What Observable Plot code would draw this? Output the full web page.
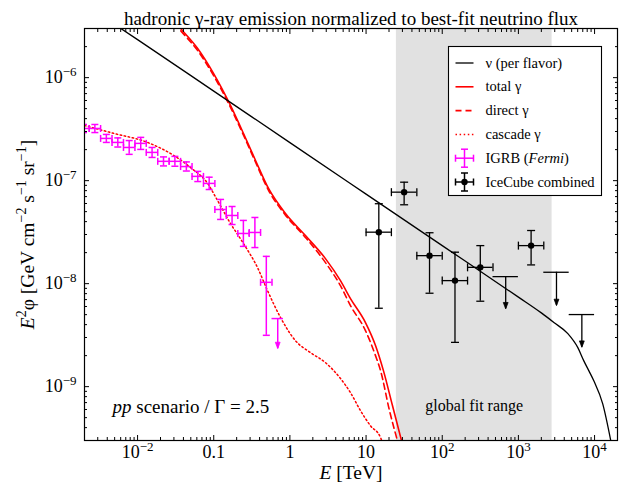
<!DOCTYPE html>
<html><head><meta charset="utf-8">
<script src="https://cdn.jsdelivr.net/npm/d3@7"></script>
<script src="https://cdn.jsdelivr.net/npm/@observablehq/plot@0.6"></script>
<style>
body{margin:0;background:#fff;}
#chart{width:622px;height:487px;}
</style></head><body><div id="chart"></div>
<script>
// ---------------- data ----------------
// neutrino flux per flavor, E [TeV], E^2 phi [GeV cm^-2 s^-1 sr^-1]
const nuE    = [5.0e-3, 1e-2, 0.1, 1, 10, 100, 1000, 2000, 2920, 4460, 6030, 7200, 8400, 9770, 12800, 16300];
const nuFlux = [3.29e-6, 2.34e-6, 7.4e-7, 2.34e-7, 7.4e-8, 2.34e-8, 7.4e-9, 5.2e-9, 4.2e-9, 3.27e-9, 2.39e-9, 1.79e-9, 1.43e-9, 1.14e-9, 6.8e-10, 3.0e-10];
// total gamma
const totE    = [0.025, 0.0366, 0.0612, 0.0993, 0.161, 0.246, 0.354, 0.524, 0.875, 1.60, 2.93, 4.61, 6.24, 9.82, 13.3, 16.9, 22.2, 29.2];
const totFlux = [4.2e-6, 3.01e-6, 1.93e-6, 1.10e-6, 5.62e-7, 2.87e-7, 1.57e-7, 8.39e-8, 4.80e-8, 2.93e-8, 1.75e-8, 1.07e-8, 7.16e-9, 4.19e-9, 2.51e-9, 1.43e-9, 6.55e-10, 2.99e-10];
// direct gamma
const dirE    = [0.025, 0.0366, 0.0612, 0.0993, 0.161, 0.246, 0.354, 0.524, 0.875, 1.60, 2.93, 4.61, 6.24, 9.82, 13.3, 15.5, 20.3, 25.8];
const dirFlux = [4.0e-6, 2.87e-6, 1.84e-6, 1.05e-6, 5.38e-7, 2.76e-7, 1.51e-7, 8.05e-8, 4.62e-8, 2.81e-8, 1.60e-8, 9.57e-9, 6.12e-9, 3.50e-9, 2.00e-9, 1.43e-9, 5.85e-10, 2.99e-10];
// cascade gamma
const casE    = [2.01e-3, 4.84e-3, 0.0135, 0.0297, 0.0496, 0.083, 0.112, 0.166, 0.246, 0.376, 0.508, 0.753, 1.18, 1.86, 2.93, 4.61, 6.24, 8.45, 11.4, 15.5, 16.6];
const casFlux = [3.43e-7, 2.88e-7, 2.35e-7, 1.76e-7, 1.34e-7, 9.4e-8, 6.43e-8, 3.84e-8, 2.45e-8, 1.43e-8, 8.57e-9, 4.69e-9, 2.80e-9, 2.14e-9, 1.71e-9, 1.20e-9, 8.75e-10, 5.85e-10, 4.18e-10, 3.2e-10, 2.8e-10];
// IGRB (Fermi) measured points
const igrbE     = [1.95e-3, 2.75e-3, 3.89e-3, 5.50e-3, 7.76e-3, 1.10e-2, 1.55e-2, 2.19e-2, 3.09e-2, 4.37e-2, 6.17e-2, 8.71e-2, 0.123, 0.174, 0.245, 0.347, 0.490];
const igrbEdges = [1.64e-3, 2.32e-3, 3.27e-3, 4.62e-3, 6.53e-3, 9.23e-3, 1.30e-2, 1.84e-2, 2.60e-2, 3.67e-2, 5.19e-2, 7.33e-2, 0.1035, 0.146, 0.207, 0.292, 0.412, 0.582, 0.822];
const igrbFlux  = [3.21e-7, 3.21e-7, 2.57e-7, 2.35e-7, 2.10e-7, 2.30e-7, 1.88e-7, 1.54e-7, 1.54e-7, 1.37e-7, 1.10e-7, 9.4e-8, 5.25e-8, 4.59e-8, 3.07e-8, 3.14e-8, 1.03e-8];
const igrbLo    = [2.93e-7, 2.93e-7, 2.35e-7, 2.12e-7, 1.80e-7, 2.01e-7, 1.68e-7, 1.39e-7, 1.38e-7, 1.24e-7, 9.8e-8, 8.2e-8, 4.20e-8, 3.75e-8, 2.30e-8, 2.24e-8, 3.15e-9];
const igrbHi    = [3.51e-7, 3.51e-7, 2.81e-7, 2.60e-7, 2.45e-7, 2.63e-7, 2.10e-7, 1.70e-7, 1.72e-7, 1.52e-7, 1.23e-7, 1.08e-7, 6.57e-8, 5.61e-8, 4.11e-8, 4.39e-8, 1.84e-8];
// IGRB upper limit
const igrbUlE = [0.692], igrbUlLo = [0.582], igrbUlHi = [0.822], igrbUl = [4.58e-9], igrbUlTip = [2.34e-9];
// IceCube combined points
const icE    = [14.7, 31.6, 68.1, 147, 316, 1468];
const icBinLo = [10, 21.5, 46.4, 100, 215, 1000];
const icBinHi = [21.5, 46.4, 100, 215, 464, 2154];
const icFlux = [3.16e-8, 7.73e-8, 1.87e-8, 1.07e-8, 1.44e-8, 2.34e-8];
const icLo   = [5.77e-9, 5.83e-8, 8.07e-9, 2.69e-9, 6.75e-9, 1.52e-8];
const icHi   = [5.97e-8, 9.66e-8, 3.12e-8, 2.02e-8, 2.34e-8, 3.28e-8];
// IceCube upper limits
const icUlE = [681, 3162, 6808], icUlLo = [464, 2154, 4642], icUlHi = [1000, 4642, 10000];
const icUl = [1.17e-8, 1.29e-8, 5.01e-9], icUlTip = [5.69e-9, 6.12e-9, 2.41e-9];
// global fit range [TeV]
const fitRange = [25, 2770];
// axes
const xDomain = [2.01e-3, 2.0e4], yDomain = [3.0e-10, 3.0e-6];
const xMajor = [1e-2, 1e-1, 1, 10, 100, 1e3, 1e4];
const xTickLabels = ["10^\u22122^", "0.1", "1", "10", "10^2^", "10^3^", "10^4^"];
const yMajor = [1e-9, 1e-8, 1e-7, 1e-6];
const yTickLabels = ["10^\u22129^", "10^\u22128^", "10^\u22127^", "10^\u22126^"];
const titleText = "hadronic \u03b3-ray emission normalized to best-fit neutrino flux";
const xLabel = "*E* [TeV]";
const yLabel = "*E*^2^\u03c6 [GeV cm^\u22122^ s^\u22121^ sr^\u22121^]";
const scenarioText = "*pp* scenario / \u0393 = 2.5";
const fitText = "global fit range";
const legendLabels = ["\u03bd (per flavor)", "total \u03b3", "direct \u03b3", "cascade \u03b3", "IGRB (*Fermi*)", "IceCube combined"];

// ---------------- tables ----------------
const tab = (E, F) => E.map((e, i) => ({E: e, F: F[i]}));
const nu = tab(nuE, nuFlux), tot = tab(totE, totFlux), dir = tab(dirE, dirFlux), cas = tab(casE, casFlux);
const igrb = igrbE.map((e, i) => ({E: e, e1: igrbEdges[i], e2: igrbEdges[i + 1], F: igrbFlux[i], lo: igrbLo[i], hi: igrbHi[i]}));
const igrbUL = igrbUlE.map((e, i) => ({E: e, e1: igrbUlLo[i], e2: igrbUlHi[i], F: igrbUl[i], tip: igrbUlTip[i]}));
const ic = icE.map((e, i) => ({E: e, e1: icBinLo[i], e2: icBinHi[i], F: icFlux[i], lo: icLo[i], hi: icHi[i]}));
const icUL = icUlE.map((e, i) => ({E: e, e1: icUlLo[i], e2: icUlHi[i], F: icUl[i], tip: icUlTip[i]}));

const minors = (dom) => { const out = []; for (let k = -12; k <= 6; k++) for (let m = 2; m <= 9; m++) { const v = m * Math.pow(10, k); if (v >= dom[0] && v <= dom[1]) out.push(v); } return out; };
const xMinor = minors(xDomain), yMinor = minors(yDomain);
const xLab = new Map(xMajor.map((v, i) => [v, xTickLabels[i]]));
const yLab = new Map(yMajor.map((v, i) => [v, yTickLabels[i]]));

// custom symbols
const rad = (size) => Math.sqrt(size / Math.PI);
const hCap = {draw(ctx, size) { const w = rad(size); ctx.moveTo(-w, 0); ctx.lineTo(w, 0); }};
const vCap = {draw(ctx, size) { const w = rad(size); ctx.moveTo(0, -w); ctx.lineTo(0, w); }};
const downTri = {draw(ctx, size) { const w = rad(size); ctx.moveTo(0, 0); ctx.lineTo(-w * 0.75, -w * 2); ctx.lineTo(w * 0.75, -w * 2); ctx.closePath(); }};

const serif = "'Liberation Serif','Times New Roman','DejaVu Serif',serif";
const MAG = "#ff00ff", RED = "#ff0000";

function errorMarks(data, color, capR, lw) {
  return [
    Plot.ruleX(data, {x: "E", y1: "lo", y2: "hi", stroke: color, strokeWidth: lw, clip: true}),
    Plot.ruleY(data, {y: "F", x1: "e1", x2: "e2", stroke: color, strokeWidth: lw, clip: true}),
    Plot.dot(data, {x: "E", y: "lo", symbol: hCap, r: capR, stroke: color, fill: "none", strokeWidth: lw, clip: true}),
    Plot.dot(data, {x: "E", y: "hi", symbol: hCap, r: capR, stroke: color, fill: "none", strokeWidth: lw, clip: true}),
    Plot.dot(data, {x: "e1", y: "F", symbol: vCap, r: capR, stroke: color, fill: "none", strokeWidth: lw, clip: true}),
    Plot.dot(data, {x: "e2", y: "F", symbol: vCap, r: capR, stroke: color, fill: "none", strokeWidth: lw, clip: true})
  ];
}
function ulMarks(data, color, lw, triR) {
  return [
    Plot.ruleY(data, {y: "F", x1: "e1", x2: "e2", stroke: color, strokeWidth: lw}),
    Plot.ruleX(data, {x: "E", y1: "F", y2: "tip", stroke: color, strokeWidth: lw}),
    Plot.dot(data, {x: "E", y: "tip", symbol: downTri, r: triR, fill: color, stroke: color, strokeWidth: 0.8})
  ];
}

const plot = Plot.plot({
  width: 622, height: 487,
  marginLeft: 84, marginRight: 5, marginTop: 28, marginBottom: 47,
  style: {fontFamily: serif, fontSize: "18px", background: "white", color: "black", overflow: "visible"},
  x: {type: "log", domain: xDomain},
  y: {type: "log", domain: yDomain},
  marks: [
    Plot.rect([fitRange], {x1: d => d[0], x2: d => d[1], fill: "#e1e1e1"}),
    Plot.line(cas, {x: "E", y: "F", stroke: RED, strokeWidth: 1.5, strokeDasharray: "1.5,2.6", curve: "monotone-x", clip: true}),
    Plot.line(tot, {x: "E", y: "F", stroke: RED, strokeWidth: 1.6, curve: "monotone-x", clip: true}),
    Plot.line(dir, {x: "E", y: "F", stroke: RED, strokeWidth: 1.6, strokeDasharray: "6,4", curve: "monotone-x", clip: true}),
    Plot.line(nu, {x: "E", y: "F", stroke: "black", strokeWidth: 1.3, curve: "monotone-x", clip: true}),
    ...errorMarks(igrb, MAG, 3.5, 1.5),
    ...ulMarks(igrbUL, MAG, 1.5, 3.2),
    ...errorMarks(ic, "black", 4, 1.3),
    Plot.dot(ic, {x: "E", y: "F", r: 3.2, fill: "black", stroke: "none"}),
    ...ulMarks(icUL, "black", 1.3, 3.2),
    // ticks (inward)
    Plot.axisX(xMajor, {anchor: "bottom", tickSize: 5, dy: -5, fill: "none", label: null}),
    Plot.axisX(xMinor, {anchor: "bottom", tickSize: 3, dy: -3, fill: "none", label: null}),
    Plot.axisX(xMajor, {anchor: "top", tickSize: 5, dy: 5, fill: "none", label: null}),
    Plot.axisX(xMinor, {anchor: "top", tickSize: 3, dy: 3, fill: "none", label: null}),
    Plot.axisY(yMajor, {anchor: "left", tickSize: 5, dx: 5, fill: "none", label: null}),
    Plot.axisY(yMinor, {anchor: "left", tickSize: 3, dx: 3, fill: "none", label: null}),
    Plot.axisY(yMajor, {anchor: "right", tickSize: 5, dx: -5, fill: "none", label: null}),
    Plot.axisY(yMinor, {anchor: "right", tickSize: 3, dx: -3, fill: "none", label: null}),
    // tick labels
    Plot.axisX(xMajor, {anchor: "bottom", tickSize: 0, tickPadding: 5, tickFormat: d => xLab.get(d), fontSize: 18, label: null}),
    Plot.axisY(yMajor, {anchor: "left", tickSize: 0, tickPadding: 8, tickFormat: d => yLab.get(d), fontSize: 18, label: null}),
    Plot.frame({stroke: "black", strokeWidth: 1.2}),
    // texts
    Plot.text([titleText], {text: d => d, frameAnchor: "top", dy: -17, fontSize: 19}),
    Plot.text([xLabel], {text: d => d, frameAnchor: "bottom", textAnchor: "middle", dy: 38, fontSize: 19.5}),
    Plot.text([yLabel], {text: d => d, frameAnchor: "left", textAnchor: "middle", rotate: -90, dx: -57, fontSize: 19.5}),
    Plot.text([scenarioText], {text: d => d, frameAnchor: "bottom-left", textAnchor: "start", dx: 28, dy: -28, fontSize: 19}),
    Plot.text([fitText], {text: d => d, x: () => Math.sqrt(fitRange[0] * fitRange[1]), frameAnchor: "bottom", dy: -30, fontSize: 16})
  ]
});
document.getElementById("chart").appendChild(plot);

// ---------------- legend ----------------
const svg = d3.select(plot);
const lg = svg.append("g").attr("font-family", serif).attr("font-size", 14.5).attr("text-anchor", "start");
const box = {x: 448.5, y: 46.5, w: 153, h: 149};
lg.append("rect").attr("x", box.x).attr("y", box.y).attr("width", box.w).attr("height", box.h).attr("fill", "white").attr("stroke", "black").attr("stroke-width", 1.1);
const rowY = (i) => box.y + 16.5 + i * 23.8;
const sx1 = box.x + 7, sx2 = box.x + 25, tx = box.x + 37;
const styles = [
  {stroke: "black", w: 1.3}, {stroke: RED, w: 1.6}, {stroke: RED, w: 1.6, dash: "6,4"}, {stroke: RED, w: 1.5, dash: "1.5,2.6"}
];
styles.forEach((s, i) => {
  const l = lg.append("line").attr("x1", sx1).attr("x2", sx2).attr("y1", rowY(i)).attr("y2", rowY(i)).attr("stroke", s.stroke).attr("stroke-width", s.w);
  if (s.dash) l.attr("stroke-dasharray", s.dash);
});
[[4, MAG, false], [5, "black", true]].forEach(([i, c, dot]) => {
  const y = rowY(i), cx = (sx1 + sx2) / 2;
  const g = lg.append("g").attr("stroke", c).attr("stroke-width", 1.5);
  g.append("line").attr("x1", sx1).attr("x2", sx2).attr("y1", y).attr("y2", y);
  g.append("line").attr("x1", cx).attr("x2", cx).attr("y1", y - 9).attr("y2", y + 9);
  g.append("line").attr("x1", cx - 3.5).attr("x2", cx + 3.5).attr("y1", y - 9).attr("y2", y - 9);
  g.append("line").attr("x1", cx - 3.5).attr("x2", cx + 3.5).attr("y1", y + 9).attr("y2", y + 9);
  g.append("line").attr("x1", sx1).attr("x2", sx1).attr("y1", y - 3.5).attr("y2", y + 3.5);
  g.append("line").attr("x1", sx2).attr("x2", sx2).attr("y1", y - 3.5).attr("y2", y + 3.5);
  if (dot) lg.append("circle").attr("cx", cx).attr("cy", y).attr("r", 3.2).attr("fill", c);
});
legendLabels.forEach((t, i) => {
  lg.append("text").attr("x", tx).attr("y", rowY(i)).attr("dy", "0.32em").attr("text-anchor", "start").attr("fill", "black").text(t);
});

// ---------------- rich text (italic / superscript markup) ----------------
svg.selectAll("text").each(function () {
  const raw = this.textContent;
  if (!/[*^]/.test(raw)) return;
  const fs = parseFloat(getComputedStyle(this).fontSize) || 18;
  const parts = raw.split(/(\*[^*]+\*|\^[^^]+\^)/).filter(s => s.length);
  const el = d3.select(this);
  el.text(null);
  let cur = 0;
  for (const p of parts) {
    const ts = el.append("tspan");
    let target = 0;
    if (p[0] === "^") { ts.text(p.slice(1, -1)).attr("font-size", (fs * 0.72).toFixed(1)); target = -0.42 * fs; }
    else if (p[0] === "*") ts.text(p.slice(1, -1)).attr("font-style", "italic");
    else ts.text(p);
    if (Math.abs(target - cur) > 1e-6) { ts.attr("dy", (target - cur).toFixed(2)); cur = target; }
  }
});
</script>
</body></html>
